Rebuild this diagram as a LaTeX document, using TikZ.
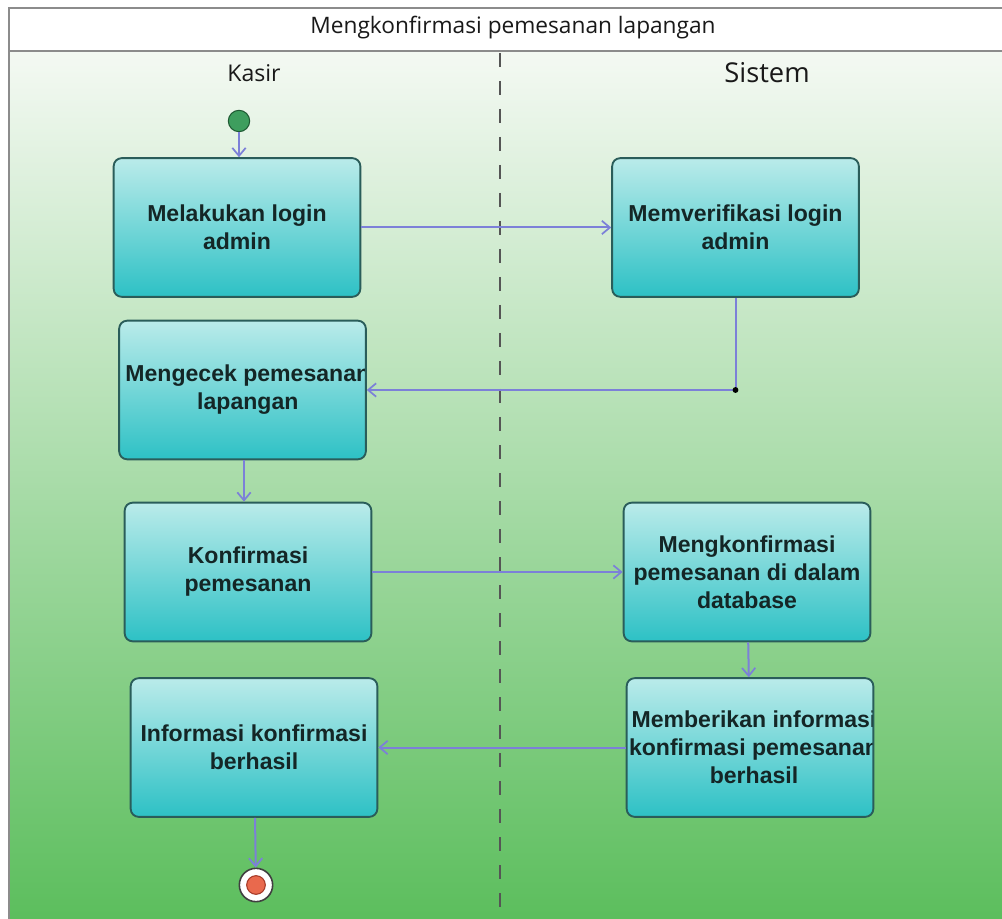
\documentclass[tikz,border=0pt]{standalone}
\usepackage{fontspec}
\setmainfont{Liberation Sans}
\newfontfamily\lanefont{Open Sans}
\usetikzlibrary{arrows.meta}

\definecolor{bgtop}{HTML}{F4F9F3}
\definecolor{bgmid}{HTML}{BFE3B8}
\definecolor{bgbot}{HTML}{5CBE5D}
\definecolor{acttop}{HTML}{BAEBEA}
\definecolor{actbot}{HTML}{2DC1C5}
\definecolor{actline}{HTML}{2A5D5A}
\definecolor{acttext}{HTML}{142626}
\definecolor{flow}{HTML}{7C80D8}
\definecolor{framegray}{HTML}{8C8C8C}
\definecolor{lanegray}{HTML}{555555}
\definecolor{startfill}{HTML}{3E9E5E}
\definecolor{startline}{HTML}{1F5A33}
\definecolor{endfill}{HTML}{E9694D}
\definecolor{endline}{HTML}{A63A28}

\tikzset{
  act/.style 2 args={rectangle, rounded corners=6pt, draw=actline, line width=1.4pt,
    top color=acttop, bottom color=actbot,
    minimum width=185pt, minimum height=104pt, inner sep=0pt,
    path picture={\node[acttextstyle] (#1) at ([xshift=#2]path picture bounding box.center) {\csname acttxt#1\endcsname};}},
  acttextstyle/.style={align=center, text=acttext,
    font=\fontsize{17.3pt}{21pt}\selectfont\bfseries},
  flowline/.style={draw=flow, line width=1.5pt,
    -{Straight Barb[length=6pt,width=10pt,line width=1.3pt]}},
  lanelabel/.style={text=black!90, inner sep=0pt}
}

% action texts
\newcommand\acttxttone{Melakukan login\\admin}
\newcommand\acttxtttwo{Memverifikasi login\\admin}
\newcommand\acttxttthree{Mengecek pemesanan\\lapangan}
\newcommand\acttxttfour{Konfirmasi\\pemesanan}
\newcommand\acttxttfive{Mengkonfirmasi\\pemesanan di dalam\\database}
\newcommand\acttxttsix{Memberikan informasi\\konfirmasi pemesanan\\berhasil}
\newcommand\acttxttseven{Informasi konfirmasi\\berhasil}

\begin{document}
\begin{tikzpicture}[x=0.75pt,y=-0.75pt]
  \useasboundingbox (0,0) rectangle (1002,919);

  % swimlane background and frame
  \shade[top color=bgtop, middle color=bgmid, bottom color=bgbot] (9,51) rectangle (1002,919);
  \fill[white] (9,8) rectangle (1002,51);
  \draw[framegray, line width=1.6pt] (1002,8) -- (9,8) -- (9,919);
  \draw[framegray, line width=1.6pt] (9,51) -- (1002,51);
  \draw[lanegray, line width=1.6pt, dash pattern=on 10.5pt off 10.5pt] (500,53) -- (500,919);

  % titles
  \node[lanelabel, font=\lanefont\fontsize{17pt}{19pt}\selectfont] (title) at (513,28) {Mengkonfirmasi pemesanan lapangan};
  \node[lanelabel, font=\lanefont\fontsize{17.3pt}{19pt}\selectfont] (kasir) at (254,73) {Kasir};
  \node[lanelabel, font=\lanefont\fontsize{20.5pt}{22pt}\selectfont] (sistem) at (767,73) {Sistem};

  % start and end nodes
  \node[circle, fill=startfill, draw=startline, line width=0.8pt, minimum size=16pt, inner sep=0pt] (start) at (239,121) {};
  \node[circle, fill=white, draw=black!75, line width=1.2pt, minimum size=25pt, inner sep=0pt] (end) at (256,885) {};
  \node[circle, fill=endfill, draw=endline, line width=0.8pt, minimum size=14pt, inner sep=0pt] (endcore) at (end) {};

  % actions
  \node[act={tone}{0pt}] (b1) at (237,227.5) {};
  \node[act={ttwo}{0pt}] (b2) at (735.5,227.5) {};
  \node[act={tthree}{4pt}] (b3) at (242.5,390) {};
  \node[act={tfour}{0pt}] (b4) at (248,572) {};
  \node[act={tfive}{0pt}] (b5) at (747,572) {};
  \node[act={tsix}{3pt}] (b6) at (750,747.5) {};
  \node[act={tseven}{0pt}] (b7) at (254,747.5) {};

  % control flows
  \draw[flowline] (start) -- (start |- b1.north);
  \draw[flowline] (b1) -- (b2);
  \coordinate (j) at (b2.south |- b3.east);
  \draw[flowline] (b2.south) -- (j) -- (b3.east);
  \fill[black] (j) circle (2.2pt);
  \draw[flowline] (b3.south -| 244,0) -- (244,0 |- b4.north);
  \draw[flowline] (b4) -- (b5);
  \draw[flowline] (b5) -- (b6);
  \draw[flowline] (b6) -- (b7);
  \draw[flowline] (b7) -- (end);
\end{tikzpicture}
\end{document}
